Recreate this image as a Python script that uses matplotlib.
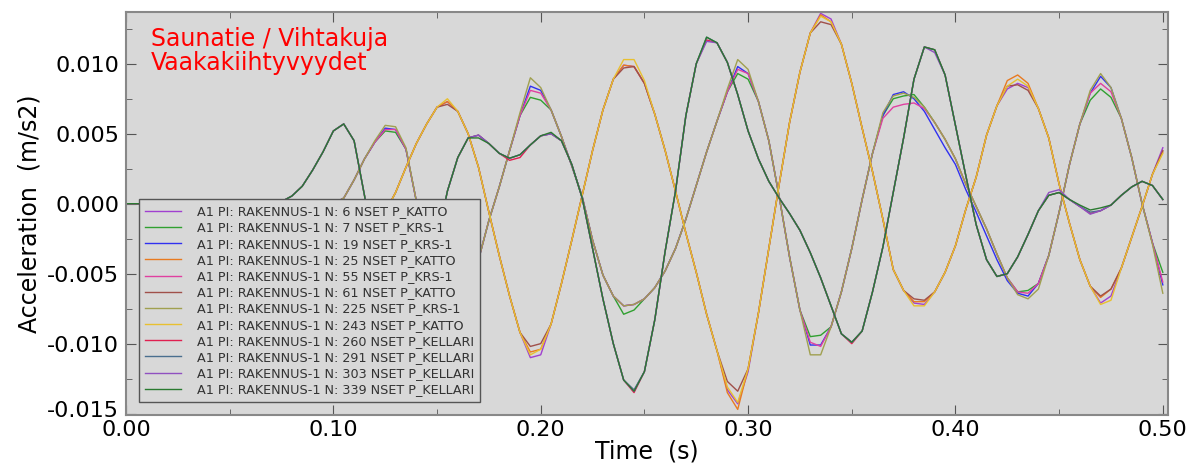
import numpy as np
import matplotlib
matplotlib.use('Agg')
import matplotlib.pyplot as plt
import matplotlib.transforms as mtrans
from matplotlib.ticker import MultipleLocator

#%% Data: acceleration histories, values in 1e-3 m/s2, sampled every 0.005 s

time = np.arange(101) * 0.005

# P_KATTO nodes
n6 = [0, 0, 0, 0, 0, 0, 0, 0, 0, 0, 0, 0, 0, 0, 0, 0, -0.05, -0.1, -0.15, -0.2,
      -0.3, -0.55, -0.8, -0.95, -1.05, -0.6, 0.8, 2.6, 4.3, 5.7,
      6.9, 7.3, 6.6, 5.0, 2.6, -0.6, -3.7, -6.6, -9.2, -11.0,
      -10.8, -8.6, -5.7, -2.6, 0.6, 3.8, 6.7, 8.9, 9.9, 9.8,
      8.6, 6.4, 3.8, 0.9, -2.1, -4.9, -7.9, -10.5, -13.3, -14.3,
      -12.0, -7.8, -3.2, 1.4, 5.8, 9.4, 12.2, 13.6, 13.2, 11.4,
      8.6, 5.4, 2.3, -1.1, -4.7, -6.2, -7.1, -7.2, -6.3, -4.9,
      -3.0, -0.4, 1.9, 4.9, 7.0, 8.2, 8.6, 8.3, 6.8, 4.7,
      1.4, -1.4, -4.0, -5.9, -7.1, -6.6, -4.6, -2.4, -0.2, 2.1,
      4.0]
n25 = [0, 0, 0, 0, 0, 0, 0, 0, 0, 0, 0, 0, 0, 0, 0, 0, -0.05, -0.1, -0.15, -0.2,
       -0.3, -0.55, -0.8, -0.95, -1.05, -0.6, 0.8, 2.6, 4.3, 5.7,
       6.9, 7.3, 6.6, 5.0, 2.6, -0.6, -3.7, -6.6, -9.2, -10.6,
       -10.4, -8.6, -5.7, -2.6, 0.6, 3.8, 6.7, 8.9, 9.9, 9.8,
       8.6, 6.4, 3.8, 0.9, -2.1, -4.9, -7.9, -10.5, -13.5, -14.7,
       -11.8, -7.8, -3.2, 1.4, 5.8, 9.4, 12.2, 13.5, 13.0, 11.4,
       8.6, 5.4, 2.3, -1.1, -4.7, -6.2, -7.0, -7.0, -6.3, -4.9,
       -3.0, -0.4, 1.9, 4.9, 7.0, 8.8, 9.2, 8.6, 6.8, 4.7,
       1.4, -1.4, -4.0, -5.9, -6.7, -6.1, -4.6, -2.4, -0.2, 2.1,
       3.7]
n61 = [0, 0, 0, 0, 0, 0, 0, 0, 0, 0, 0, 0, 0, 0, 0, 0, -0.05, -0.1, -0.15, -0.2,
       -0.3, -0.55, -0.8, -0.95, -1.05, -0.6, 0.8, 2.6, 4.3, 5.7,
       6.9, 7.1, 6.6, 5.0, 2.6, -0.6, -3.7, -6.6, -9.2, -10.2,
       -10.0, -8.6, -5.7, -2.6, 0.6, 3.8, 6.7, 8.9, 9.7, 9.8,
       8.6, 6.4, 3.8, 0.9, -2.1, -4.9, -7.9, -10.5, -12.7, -13.4,
       -11.8, -7.8, -3.2, 1.4, 5.8, 9.4, 12.2, 13.0, 12.8, 11.4,
       8.6, 5.4, 2.3, -1.1, -4.7, -6.2, -6.8, -6.9, -6.3, -4.9,
       -3.0, -0.4, 1.9, 4.9, 7.0, 8.4, 8.5, 8.1, 6.8, 4.7,
       1.4, -1.4, -4.0, -5.9, -6.6, -6.1, -4.6, -2.4, -0.2, 2.1,
       3.8]
n243 = [0, 0, 0, 0, 0, 0, 0, 0, 0, 0, 0, 0, 0, 0, 0, 0, -0.05, -0.1, -0.15, -0.2,
        -0.3, -0.55, -0.8, -0.95, -1.05, -0.6, 0.8, 2.6, 4.3, 5.7,
        6.9, 7.5, 6.6, 5.0, 2.6, -0.6, -3.7, -6.6, -9.2, -10.8,
        -10.4, -8.6, -5.7, -2.6, 0.6, 3.8, 6.7, 8.9, 10.3, 10.3,
        8.8, 6.4, 3.8, 0.9, -2.1, -4.9, -7.9, -10.5, -13.1, -14.2,
        -11.8, -7.8, -3.2, 1.4, 5.8, 9.4, 12.2, 13.4, 13.0, 11.4,
        8.6, 5.4, 2.3, -1.1, -4.7, -6.2, -7.3, -7.3, -6.3, -4.9,
        -3.0, -0.4, 1.9, 4.9, 7.0, 8.4, 8.9, 8.4, 6.8, 4.7,
        1.4, -1.4, -4.0, -5.9, -7.2, -6.9, -4.6, -2.4, -0.2, 2.1,
        3.6]

# P_KRS-1 nodes
n7 = [0, 0, 0, 0, 0, 0, 0, 0, 0, 0, 0, 0, 0, 0, 0, 0, 0, -0.1, -0.2, -0.2,
      0.0, 0.4, 1.7, 3.2, 4.4, 5.2, 5.1, 3.9, 0.2, -3.6,
      -6.5, -7.8, -8.0, -6.9, -4.0, -1.2, 1.2, 3.8, 6.3, 7.6,
      7.4, 6.7, 4.8, 2.7, 0.5, -2.6, -5.1, -6.6, -7.9, -7.6,
      -6.8, -6.0, -4.8, -3.2, -1.1, 1.3, 3.7, 5.9, 8.0, 9.3,
      8.9, 7.3, 4.5, 0.5, -3.8, -7.6, -9.5, -9.4, -8.8, -6.3,
      -3.2, 0.3, 3.6, 6.3, 7.5, 7.7, 7.8, 6.9, 5.8, 4.6,
      3.2, 1.4, -0.2, -1.8, -3.6, -5.3, -6.3, -6.2, -5.7, -3.7,
      -0.6, 2.8, 5.7, 7.4, 8.2, 7.6, 6.1, 3.3, 0.0, -2.8,
      -4.9]
n19 = [0, 0, 0, 0, 0, 0, 0, 0, 0, 0, 0, 0, 0, 0, 0, 0, 0, -0.1, -0.2, -0.2,
       0.0, 0.4, 1.7, 3.2, 4.4, 5.4, 5.3, 3.9, 0.2, -3.6,
       -6.5, -8.0, -8.5, -6.9, -4.0, -1.2, 1.2, 3.8, 6.3, 8.4,
       8.1, 6.7, 4.8, 2.7, 0.5, -2.6, -5.1, -6.6, -7.3, -7.2,
       -6.8, -6.0, -4.8, -3.2, -1.1, 1.3, 3.7, 5.9, 8.0, 9.8,
       9.3, 7.3, 4.5, 0.5, -3.8, -7.6, -10.1, -10.1, -8.8, -6.3,
       -3.2, 0.3, 3.6, 6.3, 7.8, 8.0, 7.5, 6.6, 5.3, 4.0,
       2.8, 1.0, -0.6, -2.3, -4.0, -5.5, -6.4, -6.6, -5.7, -3.7,
       -0.6, 2.8, 5.7, 7.9, 9.1, 8.3, 6.1, 3.3, 0.0, -2.8,
       -5.8]
n55 = [0, 0, 0, 0, 0, 0, 0, 0, 0, 0, 0, 0, 0, 0, 0, 0, 0, -0.1, -0.2, -0.2,
       0.0, 0.4, 1.7, 3.2, 4.4, 5.3, 5.3, 3.9, 0.2, -3.6,
       -6.5, -8.0, -8.4, -6.9, -4.0, -1.2, 1.2, 3.8, 6.3, 8.1,
       7.9, 6.7, 4.8, 2.7, 0.5, -2.6, -5.1, -6.6, -7.3, -7.2,
       -6.8, -6.0, -4.8, -3.2, -1.1, 1.3, 3.7, 5.9, 8.0, 9.6,
       9.3, 7.3, 4.5, 0.5, -3.8, -7.6, -9.9, -10.2, -8.8, -6.3,
       -3.2, 0.3, 3.6, 6.1, 6.9, 7.1, 7.2, 6.8, 5.8, 4.6,
       3.2, 1.4, -0.2, -1.8, -3.6, -5.3, -6.3, -6.4, -5.7, -3.7,
       -0.6, 2.8, 5.7, 7.9, 8.6, 8.0, 6.1, 3.3, 0.0, -2.8,
       -5.6]
n225 = [0, 0, 0, 0, 0, 0, 0, 0, 0, 0, 0, 0, 0, 0, 0, 0, 0, -0.1, -0.2, -0.2,
        0.0, 0.4, 1.7, 3.2, 4.5, 5.6, 5.5, 4.0, 0.2, -3.6,
        -6.5, -8.6, -9.4, -7.2, -4.0, -1.2, 1.2, 3.8, 6.5, 9.0,
        8.3, 6.7, 4.8, 2.7, 0.5, -2.6, -5.1, -6.6, -7.3, -7.2,
        -6.8, -6.0, -4.8, -3.2, -1.1, 1.3, 3.7, 5.9, 8.2, 10.3,
        9.6, 7.3, 4.5, 0.5, -3.8, -7.6, -10.8, -10.8, -8.8, -6.3,
        -3.2, 0.3, 3.6, 6.5, 7.7, 7.9, 7.6, 6.9, 5.8, 4.6,
        3.2, 1.4, -0.2, -1.8, -3.6, -5.3, -6.5, -6.8, -6.1, -3.7,
        -0.6, 2.8, 5.7, 8.1, 9.3, 8.3, 6.1, 3.3, 0.0, -2.9,
        -6.4]

# P_KELLARI nodes
n260 = [0, 0, 0, 0, 0, 0, 0, 0, 0, 0, 0, 0, 0, 0, 0.05, 0.15, 0.55, 1.25, 2.4, 3.7,
        5.2, 5.7, 4.5, 0.6, -3.8, -8.0, -10.0, -10.8, -8.8, -5.9,
        -2.6, 0.9, 3.3, 4.7, 4.9, 4.3, 3.6, 3.1, 3.3, 4.2,
        4.85, 5.0, 4.5, 2.8, 0.4, -3.2, -6.8, -10.0, -12.6, -13.5,
        -12.0, -8.3, -3.4, 0.9, 6.3, 10.0, 11.7, 11.5, 10.1, 7.8,
        5.2, 3.2, 1.6, 0.4, -0.7, -1.9, -3.5, -5.3, -7.3, -9.3,
        -10.0, -9.1, -6.3, -3.1, 0.8, 4.7, 8.9, 11.2, 11.0, 9.2,
        5.6, 2.0, -1.5, -4.0, -5.2, -5.0, -3.8, -2.2, -0.5, 0.6,
        0.8, 0.3, -0.2, -0.7, -0.5, -0.1, 0.6, 1.2, 1.6, 1.3,
        0.3]
n291 = [0, 0, 0, 0, 0, 0, 0, 0, 0, 0, 0, 0, 0, 0, 0.05, 0.15, 0.55, 1.25, 2.4, 3.7,
        5.2, 5.7, 4.5, 0.6, -3.8, -8.0, -10.0, -11.1, -8.8, -5.9,
        -2.6, 0.9, 3.3, 4.7, 4.9, 4.3, 3.6, 3.25, 3.5, 4.2,
        4.85, 5.0, 4.5, 2.8, 0.4, -3.2, -6.8, -10.0, -12.6, -13.3,
        -12.0, -8.3, -3.4, 0.9, 6.3, 10.0, 11.9, 11.5, 10.1, 7.8,
        5.2, 3.2, 1.6, 0.4, -0.7, -1.9, -3.5, -5.3, -7.3, -9.3,
        -9.9, -9.1, -6.3, -3.1, 0.8, 4.7, 8.9, 11.2, 11.0, 9.2,
        5.6, 2.0, -1.5, -4.0, -5.2, -5.0, -3.8, -2.2, -0.5, 0.6,
        0.8, 0.3, -0.2, -0.6, -0.5, -0.1, 0.6, 1.2, 1.6, 1.3,
        0.3]
n303 = [0, 0, 0, 0, 0, 0, 0, 0, 0, 0, 0, 0, 0, 0, 0.05, 0.15, 0.55, 1.25, 2.4, 3.7,
        5.2, 5.7, 4.5, 0.6, -3.8, -8.0, -10.0, -10.9, -8.8, -5.9,
        -2.6, 0.9, 3.3, 4.7, 4.9, 4.3, 3.6, 3.25, 3.5, 4.2,
        4.85, 5.0, 4.5, 2.8, 0.4, -3.2, -6.8, -10.0, -12.6, -13.4,
        -12.0, -8.3, -3.4, 0.9, 6.3, 10.0, 11.6, 11.5, 10.1, 7.8,
        5.2, 3.2, 1.6, 0.4, -0.7, -1.9, -3.5, -5.3, -7.3, -9.3,
        -9.9, -9.1, -6.3, -3.1, 0.8, 4.7, 8.9, 11.2, 10.8, 9.2,
        5.6, 2.0, -1.5, -4.0, -5.2, -5.0, -3.8, -2.2, -0.5, 0.8,
        1.0, 0.3, -0.2, -0.75, -0.5, -0.1, 0.6, 1.2, 1.6, 1.3,
        0.3]
n339 = [0, 0, 0, 0, 0, 0, 0, 0, 0, 0, 0, 0, 0, 0, 0.05, 0.15, 0.55, 1.25, 2.4, 3.7,
        5.2, 5.7, 4.5, 0.6, -3.8, -8.0, -10.0, -10.9, -8.8, -5.9,
        -2.6, 0.9, 3.3, 4.7, 4.7, 4.3, 3.6, 3.25, 3.5, 4.2,
        4.85, 5.1, 4.5, 2.8, 0.4, -3.2, -6.8, -10.0, -12.6, -13.4,
        -12.0, -8.3, -3.4, 0.9, 6.3, 10.0, 11.9, 11.5, 10.1, 7.8,
        5.2, 3.2, 1.6, 0.4, -0.7, -1.9, -3.5, -5.3, -7.3, -9.3,
        -9.9, -9.1, -6.3, -3.1, 0.8, 4.7, 8.9, 11.2, 11.0, 9.2,
        5.6, 2.0, -1.5, -4.0, -5.2, -5.0, -3.8, -2.2, -0.5, 0.6,
        0.8, 0.3, -0.1, -0.45, -0.3, -0.1, 0.6, 1.2, 1.6, 1.3,
        0.3]

series = [n6, n7, n19, n25, n55, n61, n225, n243, n260, n291, n303, n339]
labels = ['A1 PI: RAKENNUS-1 N: 6 NSET P_KATTO',
          'A1 PI: RAKENNUS-1 N: 7 NSET P_KRS-1',
          'A1 PI: RAKENNUS-1 N: 19 NSET P_KRS-1',
          'A1 PI: RAKENNUS-1 N: 25 NSET P_KATTO',
          'A1 PI: RAKENNUS-1 N: 55 NSET P_KRS-1',
          'A1 PI: RAKENNUS-1 N: 61 NSET P_KATTO',
          'A1 PI: RAKENNUS-1 N: 225 NSET P_KRS-1',
          'A1 PI: RAKENNUS-1 N: 243 NSET P_KATTO',
          'A1 PI: RAKENNUS-1 N: 260 NSET P_KELLARI',
          'A1 PI: RAKENNUS-1 N: 291 NSET P_KELLARI',
          'A1 PI: RAKENNUS-1 N: 303 NSET P_KELLARI',
          'A1 PI: RAKENNUS-1 N: 339 NSET P_KELLARI']
colors = ['#a040d0', '#30a030', '#3030f0', '#e87a20', '#e040a0', '#a0504a',
          '#a0a050', '#e8c030', '#e02050', '#4a6f8f', '#9050c0', '#2a7a30']

#%% Plot

plt.rcParams['axes.unicode_minus'] = False
plt.rcParams['font.family'] = 'DejaVu Sans'

fig = plt.figure(figsize=(11.98, 4.68), dpi=100)
ax = fig.add_axes([126 / 1198, (468 - 415) / 468, (1168 - 126) / 1198, (415 - 12) / 468])
ax.set_facecolor('#d8d8d8')

for y, lab, c in zip(series, labels, colors):
    ax.plot(time, np.array(y) * 1e-3, color=c, lw=1.0, label=lab)

ax.set_xlim(0, 0.5025)
ax.set_ylim(-0.0151, 0.0137)
ax.xaxis.set_major_locator(MultipleLocator(0.1))
ax.xaxis.set_minor_locator(MultipleLocator(0.05))
ax.yaxis.set_major_locator(MultipleLocator(0.005))
ax.yaxis.set_minor_locator(MultipleLocator(0.0025))
ax.xaxis.set_major_formatter(plt.FormatStrFormatter('%.2f'))
ax.yaxis.set_major_formatter(plt.FormatStrFormatter('%.3f'))
ax.tick_params(which='both', direction='in', top=True, right=True, color='#555555')
ax.tick_params(which='major', length=7, labelsize=16)
ax.tick_params(which='minor', length=4)
ax.tick_params(axis='y', pad=5)
for s in ax.spines.values():
    s.set_color('#888888')
    s.set_linewidth(1.5)

# bottom y label sits a little higher in the original
fig.canvas.draw()
lowest = ax.get_yticklabels()[0]
for lab in ax.get_yticklabels():
    if lab.get_text() == '-0.015':
        lab.set_transform(lab.get_transform() + mtrans.ScaledTranslation(0, 5 / 100, fig.dpi_scale_trans))

ax.set_xlabel('Time  (s)', fontsize=17, labelpad=0)
ax.set_ylabel('Acceleration  (m/s2)', fontsize=17, labelpad=4)

ax.text(0.024, 0.962, 'Saunatie / Vihtakuja\nVaakakiihtyvyydet', transform=ax.transAxes,
        color='red', fontsize=17, va='top', ha='left', linespacing=1.0)

leg = ax.legend(loc='lower left', bbox_to_anchor=(0.0125, 0.032), borderaxespad=0,
                fontsize=9.2, handlelength=2.8, handletextpad=1.3, labelspacing=0.25,
                borderpad=0.45, fancybox=False, framealpha=1, facecolor='#d8d8d8',
                edgecolor='#555555')
for t in leg.get_texts():
    t.set_color('#333333')

plt.savefig('out.png', dpi=100)
